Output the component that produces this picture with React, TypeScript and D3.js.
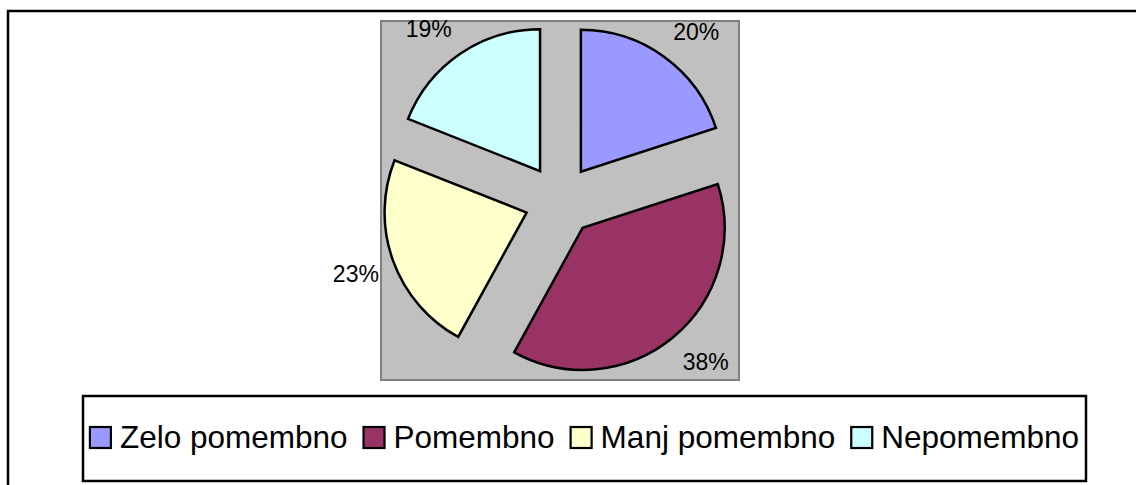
import React, { useEffect, useRef } from "react";
import * as d3 from "d3";

const W = 1136;
const H = 485;

const categories = ["Zelo pomembno", "Pomembno", "Manj pomembno", "Nepomembno"];
const values = [20, 38, 23, 19];
const labels = ["20%", "38%", "23%", "19%"];
const colors = ["#9999FF", "#993366", "#FFFFCC", "#CCFFFF"];

const FONT = "'Liberation Sans', Arial, sans-serif";

// layout (chart frame, plot area, legend box)
const FRAME = { x: 8, y: 11, w: 1153, h: 481 };
const PLOT = { x: 381, y: 21, w: 358, h: 359 };
const LEGEND = { x: 83, y: 396, w: 1003, h: 85 };

const RADIUS = 142;
const EXPLODE = 0.25; // fraction of the radius
const LABEL_PAD = 15;
const LABEL_SIZE = 23;

export default function App() {
  const svgRef = useRef<SVGSVGElement>(null);

  useEffect(() => {
    const svg = d3.select(svgRef.current);
    svg.selectAll("*").remove();

    svg.append("rect").attr("width", W).attr("height", H).attr("fill", "#fff");

    // outer chart frame
    svg
      .append("rect")
      .attr("x", FRAME.x)
      .attr("y", FRAME.y)
      .attr("width", FRAME.w)
      .attr("height", FRAME.h)
      .attr("fill", "none")
      .attr("stroke", "#000")
      .attr("stroke-width", 2.5);

    // plot area
    svg
      .append("rect")
      .attr("x", PLOT.x)
      .attr("y", PLOT.y)
      .attr("width", PLOT.w)
      .attr("height", PLOT.h)
      .attr("fill", "#C0C0C0")
      .attr("stroke", "#808080")
      .attr("stroke-width", 2);

    const cx = PLOT.x + PLOT.w / 2;
    const cy = PLOT.y + PLOT.h / 2;

    const pie = d3
      .pie<number>()
      .sort(null)
      .value((d) => d)
      .startAngle(0)
      .endAngle(2 * Math.PI);
    const arcs = pie(values);

    const arc = d3.arc<d3.PieArcDatum<number>>().innerRadius(0).outerRadius(RADIUS);
    const off = RADIUS * EXPLODE;
    const mid = (d: d3.PieArcDatum<number>) => (d.startAngle + d.endAngle) / 2;

    const g = svg.append("g").attr("transform", `translate(${cx},${cy})`);

    // exploded slices
    g.selectAll("path.slice")
      .data(arcs)
      .join("path")
      .attr("class", "slice")
      .attr("d", arc)
      .attr("fill", (_, i) => colors[i])
      .attr("stroke", "#000")
      .attr("stroke-width", 2.5)
      .attr("transform", (d) => {
        const a = mid(d);
        return `translate(${Math.sin(a) * off},${-Math.cos(a) * off})`;
      });

    // percentage labels: box corner just outside the slice edge
    const lbl = g
      .selectAll("text.lbl")
      .data(arcs)
      .join("text")
      .attr("class", "lbl")
      .attr("text-anchor", "middle")
      .attr("dy", "0.35em")
      .style("font-family", FONT)
      .style("font-size", `${LABEL_SIZE}px`)
      .style("fill", "#000")
      .text((_, i) => labels[i]);

    lbl.each(function (d) {
      const el = this as SVGTextElement;
      const w = el.getComputedTextLength();
      const h = LABEL_SIZE * 1.1;
      const a = mid(d);
      const dx = Math.sin(a);
      const dy = -Math.cos(a);
      const e = RADIUS + off + LABEL_PAD;
      const fy = Math.min(1, Math.abs(dy) * 2);
      const x = dx * e + Math.sign(dx) * (w / 2);
      const y = dy * e + Math.sign(dy) * (h / 2) * fy;
      d3.select(el).attr("x", x).attr("y", y);
    });

    // legend
    svg
      .append("rect")
      .attr("x", LEGEND.x)
      .attr("y", LEGEND.y)
      .attr("width", LEGEND.w)
      .attr("height", LEGEND.h)
      .attr("fill", "#fff")
      .attr("stroke", "#000")
      .attr("stroke-width", 2.5);

    const sq = 21;
    const gapText = 9;
    const gapItem = 16;
    const baseline = LEGEND.y + 52;

    const items = svg
      .append("g")
      .selectAll("g.item")
      .data(categories)
      .join("g")
      .attr("class", "item");

    items
      .append("rect")
      .attr("width", sq)
      .attr("height", sq)
      .attr("y", baseline - sq)
      .attr("fill", (_, i) => colors[i])
      .attr("stroke", "#000")
      .attr("stroke-width", 2.2);

    const texts = items
      .append("text")
      .attr("x", sq + gapText)
      .attr("y", baseline)
      .style("font-family", FONT)
      .style("font-size", "31.5px")
      .style("fill", "#000")
      .text((d) => d);

    const widths: number[] = [];
    texts.each(function () {
      widths.push((this as SVGTextElement).getComputedTextLength());
    });
    const itemW = widths.map((w) => sq + gapText + w);
    const total = d3.sum(itemW) + gapItem * (itemW.length - 1);
    let x0 = LEGEND.x + (LEGEND.w - total) / 2;
    const xs: number[] = [];
    itemW.forEach((w) => {
      xs.push(x0);
      x0 += w + gapItem;
    });
    items.attr("transform", (_, i) => `translate(${xs[i]},0)`);
  }, []);

  return (
    <svg
      ref={svgRef}
      width={W}
      height={H}
      style={{ position: "absolute", left: 0, top: 0, display: "block" }}
    ></svg>
  );
}
